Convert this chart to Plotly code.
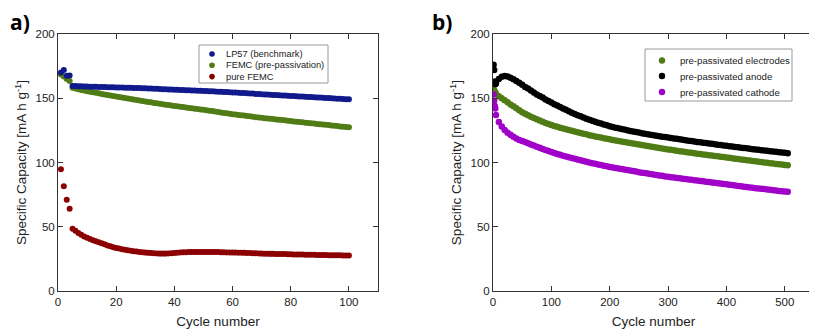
import plotly.graph_objects as go

# panel a) cycles 1-100
cycle_a = list(range(1, 101))

lp57 = [
    170.0, 172.0, 167.5, 167.8, 159.6, 159.5, 159.4, 159.3, 159.2, 159.1,
    159.0, 158.9, 158.9, 158.8, 158.7, 158.7, 158.6, 158.5, 158.5, 158.4,
    158.3, 158.3, 158.2, 158.1, 158.1, 158.0, 157.9, 157.9, 157.8, 157.7,
    157.6, 157.5, 157.4, 157.3, 157.2, 157.1, 157.0, 156.9, 156.8, 156.7,
    156.6, 156.5, 156.4, 156.3, 156.2, 156.1, 156.0, 155.9, 155.8, 155.7,
    155.6, 155.5, 155.4, 155.3, 155.1, 155.0, 154.9, 154.8, 154.6, 154.5,
    154.4, 154.2, 154.1, 154.0, 153.8, 153.7, 153.6, 153.4, 153.3, 153.2,
    153.0, 152.9, 152.8, 152.6, 152.5, 152.4, 152.2, 152.1, 152.0, 151.8,
    151.7, 151.6, 151.4, 151.3, 151.2, 151.0, 150.9, 150.8, 150.6, 150.5,
    150.4, 150.2, 150.1, 150.0, 149.8, 149.7, 149.6, 149.4, 149.3, 149.2,
]

femc_prepass = [
    168.5, 167.0, 165.0, 163.5, 158.2, 157.5, 157.0, 156.5, 156.0, 155.5,
    155.0, 154.6, 154.2, 153.8, 153.4, 153.0, 152.6, 152.2, 151.8, 151.4,
    151.0, 150.6, 150.2, 149.8, 149.4, 149.0, 148.6, 148.2, 147.8, 147.5,
    147.1, 146.8, 146.4, 146.1, 145.7, 145.4, 145.0, 144.7, 144.3, 144.0,
    143.7, 143.4, 143.1, 142.8, 142.5, 142.2, 141.9, 141.6, 141.3, 141.0,
    140.7, 140.3, 140.0, 139.7, 139.3, 139.0, 138.6, 138.3, 137.9, 137.6,
    137.3, 137.0, 136.8, 136.5, 136.2, 135.9, 135.6, 135.3, 135.1, 134.8,
    134.5, 134.3, 134.0, 133.8, 133.5, 133.3, 133.0, 132.8, 132.5, 132.3,
    132.0, 131.8, 131.5, 131.3, 131.0, 130.8, 130.5, 130.3, 130.0, 129.8,
    129.6, 129.3, 129.1, 128.8, 128.6, 128.4, 128.1, 127.9, 127.6, 127.4,
]

pure_femc = [
    94.7, 81.5, 71.0, 64.0, 48.5, 46.8, 45.2, 43.8, 42.5, 41.4,
    40.4, 39.5, 38.7, 37.9, 37.1, 36.3, 35.5, 34.8, 34.1, 33.5,
    33.0, 32.5, 32.1, 31.7, 31.3, 31.0, 30.7, 30.4, 30.1, 29.9,
    29.7, 29.5, 29.3, 29.2, 29.1, 29.1, 29.1, 29.2, 29.4, 29.6,
    29.8, 30.0, 30.1, 30.2, 30.3, 30.3, 30.4, 30.4, 30.4, 30.4,
    30.4, 30.4, 30.4, 30.4, 30.3, 30.2, 30.1, 30.0, 30.0, 29.9,
    29.9, 29.8, 29.8, 29.7, 29.6, 29.5, 29.4, 29.3, 29.2, 29.1,
    29.0, 29.0, 28.9, 28.9, 28.8, 28.8, 28.7, 28.7, 28.6, 28.6,
    28.5, 28.5, 28.4, 28.4, 28.3, 28.3, 28.2, 28.2, 28.1, 28.1,
    28.0, 28.0, 27.9, 27.9, 27.8, 27.8, 27.8, 27.7, 27.7, 27.6,
]

# panel b) cycles 1-4, then every 5th cycle up to 505
cycle_b = [1, 2, 3, 4] + list(range(5, 506, 5))

prepass_electrodes = [
    157.5, 156.0, 155.0, 154.3,
    153.6, 151.5, 150.0, 148.5, 146.8, 145.2, 143.7, 142.2, 140.6, 139.2,
    138.0, 136.8, 135.7, 134.6, 133.6, 132.6, 131.7, 130.8, 130.0, 129.2,
    128.5, 127.8, 127.1, 126.5, 125.9, 125.3, 124.7, 124.1, 123.5, 123.0,
    122.4, 121.9, 121.3, 120.8, 120.3, 119.8, 119.4, 118.9, 118.5, 118.0,
    117.6, 117.1, 116.7, 116.3, 115.9, 115.5, 115.1, 114.7, 114.4, 114.0,
    113.6, 113.2, 112.8, 112.4, 112.0, 111.7, 111.3, 110.9, 110.6, 110.2,
    109.9, 109.5, 109.2, 108.8, 108.5, 108.1, 107.8, 107.5, 107.2, 106.9,
    106.6, 106.3, 106.0, 105.7, 105.4, 105.1, 104.8, 104.5, 104.2, 103.9,
    103.6, 103.3, 103.0, 102.7, 102.4, 102.1, 101.8, 101.5, 101.2, 100.9,
    100.6, 100.3, 100.0, 99.8, 99.5, 99.2, 98.9, 98.6, 98.4, 98.1,
    97.8,
]

prepass_anode = [
    176.0, 172.0, 163.0, 161.0,
    161.5, 165.0, 166.8, 167.3, 167.0, 166.0, 164.8, 163.5, 162.0, 160.5,
    158.8, 157.5, 156.0, 154.5, 153.0, 151.8, 150.5, 149.0, 147.8, 146.6,
    145.4, 144.3, 143.2, 142.1, 141.0, 139.9, 138.8, 137.8, 136.8, 135.9,
    135.0, 134.1, 133.3, 132.5, 131.7, 131.0, 130.3, 129.6, 128.9, 128.3,
    127.7, 127.1, 126.6, 126.1, 125.6, 125.1, 124.6, 124.1, 123.7, 123.3,
    122.8, 122.4, 122.0, 121.6, 121.3, 120.9, 120.5, 120.1, 119.8, 119.4,
    119.1, 118.7, 118.4, 118.0, 117.7, 117.3, 117.0, 116.7, 116.4, 116.0,
    115.7, 115.4, 115.1, 114.8, 114.5, 114.2, 113.9, 113.6, 113.3, 113.0,
    112.7, 112.4, 112.1, 111.8, 111.5, 111.2, 111.0, 110.7, 110.4, 110.1,
    109.9, 109.6, 109.3, 109.1, 108.8, 108.5, 108.3, 108.0, 107.8, 107.5,
    107.2,
]

prepass_cathode = [
    153.0, 148.0, 144.0, 142.0,
    137.0, 131.5, 128.0, 125.3, 123.2, 121.5, 120.0, 118.7, 117.6, 116.8,
    115.9, 115.0, 114.1, 113.2, 112.3, 111.4, 110.6, 109.8, 109.0, 108.2,
    107.4, 106.7, 106.0, 105.3, 104.7, 104.1, 103.5, 102.9, 102.3, 101.7,
    101.1, 100.6, 100.0, 99.5, 99.0, 98.5, 98.0, 97.5, 97.0, 96.5,
    96.1, 95.7, 95.3, 94.9, 94.5, 94.1, 93.7, 93.3, 92.9, 92.5,
    92.1, 91.8, 91.4, 91.0, 90.6, 90.3, 89.9, 89.6, 89.2, 88.9,
    88.6, 88.3, 88.0, 87.7, 87.4, 87.1, 86.8, 86.5, 86.2, 85.9,
    85.6, 85.4, 85.1, 84.8, 84.5, 84.2, 83.9, 83.6, 83.3, 83.0,
    82.7, 82.4, 82.1, 81.8, 81.5, 81.2, 80.9, 80.6, 80.3, 80.0,
    79.8, 79.5, 79.3, 79.0, 78.7, 78.5, 78.2, 77.9, 77.7, 77.4,
    77.2,
]

legend_a = ["LP57 (benchmark)", "FEMC (pre-passivation)", "pure FEMC"]
legend_b = ["pre-passivated electrodes", "pre-passivated anode", "pre-passivated cathode"]

BLUE = "#101a8c"
GREEN = "#4f7c15"
RED = "#8b0000"
BLACK = "#000000"
PURPLE = "#a000c8"
FONT = "Liberation Sans, Arial, sans-serif"

# the page body has an 8px margin, so the figure is drawn 8px in from the corner
OFF = 8
W, H = 817 - OFF, 332 - OFF


def px(x):
    return (x - OFF) / W


def py(y):
    return 1 - (y - OFF) / H


fig = go.Figure()

for name, ys, color in [
    (legend_a[1], femc_prepass, GREEN),
    (legend_a[0], lp57, BLUE),
    (legend_a[2], pure_femc, RED),
]:
    fig.add_trace(go.Scatter(
        x=cycle_a, y=ys, name=name, mode="markers",
        marker=dict(color=color, size=6, line=dict(width=0)),
        xaxis="x", yaxis="y",
    ))

for name, ys, color in [
    (legend_b[0], prepass_electrodes, GREEN),
    (legend_b[1], prepass_anode, BLACK),
    (legend_b[2], prepass_cathode, PURPLE),
]:
    fig.add_trace(go.Scatter(
        x=cycle_b, y=ys, name=name, mode="markers",
        marker=dict(color=color, size=6.5, line=dict(width=0)),
        xaxis="x2", yaxis="y2",
    ))

axis_style = dict(
    showgrid=False,
    zeroline=False,
    showline=True,
    linecolor="#333333",
    linewidth=1,
    mirror="ticks",
    ticks="inside",
    ticklen=5,
    tickcolor="#333333",
    automargin=False,
    tickfont=dict(family=FONT, size=11.5, color="#222222"),
)
title_font = dict(family=FONT, size=13.5, color="#222222")

y_title = "Specific Capacity [mA h g<sup>-1</sup>]"
y_dom = [py(291), py(34)]

# hand-built legend boxes (frame, symbol, label)
shapes = []
annotations = []
for (x0, y0, x1, y1), mx, tx, rows, labels, colors, r, fs in [
    ((199, 45, 328, 83), 212, 224, [54, 65.3, 76.6], legend_a, [BLUE, GREEN, RED], 2.8, 9.3),
    ((645, 49, 792, 101), 662, 678, [60.5, 76, 92], legend_b, [GREEN, BLACK, PURPLE], 3.2, 9.6),
]:
    shapes.append(dict(type="rect", xref="paper", yref="paper",
                       x0=px(x0), x1=px(x1), y0=py(y1), y1=py(y0),
                       line=dict(color="#9a9a9a", width=1), fillcolor="white", layer="above"))
    for yy, label, color in zip(rows, labels, colors):
        shapes.append(dict(type="circle", xref="paper", yref="paper",
                           x0=px(mx - r), x1=px(mx + r), y0=py(yy + r), y1=py(yy - r),
                           line=dict(width=0), fillcolor=color, layer="above"))
        annotations.append(dict(text=label, x=px(tx), y=py(yy), xref="paper", yref="paper",
                                xanchor="left", yanchor="middle", showarrow=False,
                                font=dict(family=FONT, size=fs, color="#222222")))

annotations += [
    dict(text="<b>a)</b>", x=0, y=py(6), xref="paper", yref="paper",
         xanchor="left", yanchor="top", showarrow=False,
         font=dict(family="Open Sans, sans-serif", size=21, color="black")),
    dict(text="<b>b)</b>", x=px(430), y=py(6), xref="paper", yref="paper",
         xanchor="left", yanchor="top", showarrow=False,
         font=dict(family="Open Sans, sans-serif", size=21, color="black")),
]

fig.update_layout(
    width=W,
    height=H,
    margin=dict(l=0, r=0, t=0, b=0),
    plot_bgcolor="white",
    paper_bgcolor="white",
    showlegend=False,
    xaxis=dict(axis_style, domain=[px(58), px(378)], range=[0, 110], dtick=20, anchor="y",
               title=dict(text="Cycle number", standoff=9, font=title_font)),
    yaxis=dict(axis_style, domain=y_dom, range=[0, 200], dtick=50, anchor="x",
               title=dict(text=y_title, standoff=5, font=title_font)),
    xaxis2=dict(axis_style, domain=[px(493), px(814)], range=[0, 550], dtick=100, anchor="y2",
                title=dict(text="Cycle number", standoff=9, font=title_font)),
    yaxis2=dict(axis_style, domain=y_dom, range=[0, 200], dtick=50, anchor="x2",
                title=dict(text=y_title, standoff=5, font=title_font)),
    shapes=shapes,
    annotations=annotations,
)

fig.write_html("out.html")
